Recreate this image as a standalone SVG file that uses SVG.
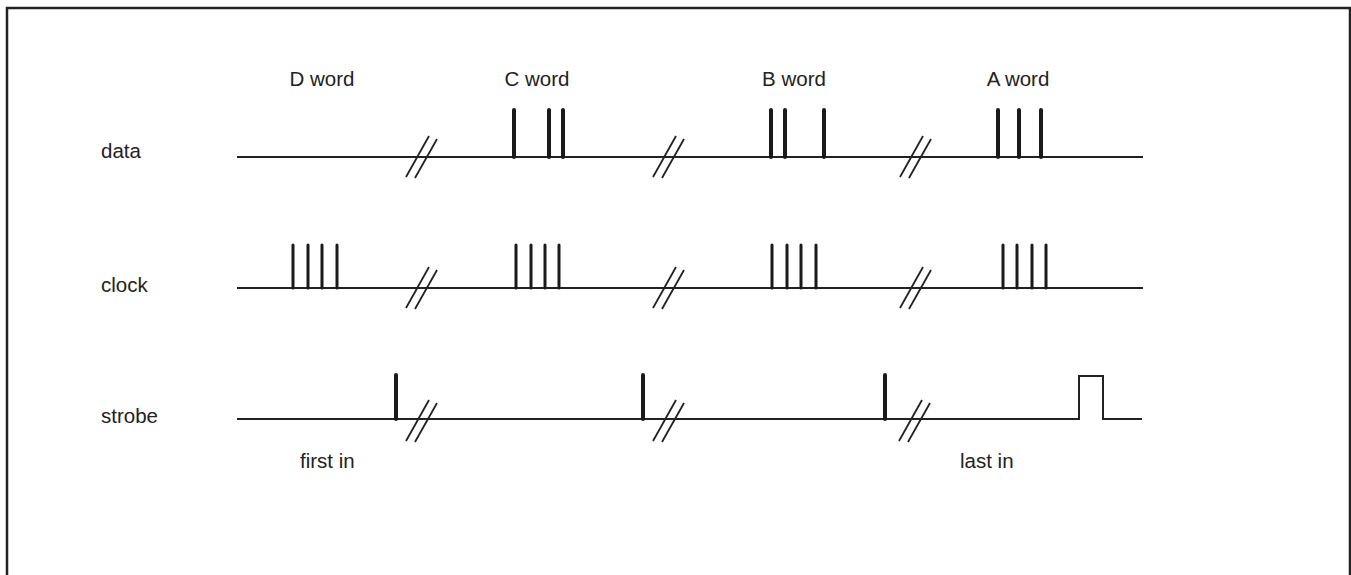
<svg xmlns="http://www.w3.org/2000/svg" width="1351" height="575" viewBox="0 0 1351 575">
<defs>
<style>
.lbl{font-family:"Liberation Sans",Arial,sans-serif;font-size:20.5px;fill:#222}
.mid{text-anchor:middle}
.base{stroke:#222;stroke-width:2;fill:none}
.pd{stroke:#1a1a1a;stroke-width:4;stroke-linecap:round}
.pc{stroke:#1a1a1a;stroke-width:3;stroke-linecap:round}
.brk{stroke:#222;stroke-width:1.8;fill:none}
</style>
<g id="brk">
<line class="brk" x1="-15" y1="20" x2="8" y2="-21"/>
<line class="brk" x1="-6" y1="21" x2="16" y2="-18"/>
</g>
</defs>
<rect x="7" y="8" width="1343" height="620" fill="#fff" stroke="#222" stroke-width="2.5"/>
<g id="labels">
<text class="lbl" x="101" y="158">data</text>
<text class="lbl" x="101" y="292">clock</text>
<text class="lbl" x="101" y="423">strobe</text>
<text class="lbl mid" x="322" y="86">D word</text>
<text class="lbl mid" x="537" y="86">C word</text>
<text class="lbl mid" x="794" y="86">B word</text>
<text class="lbl mid" x="1018" y="86">A word</text>
<text class="lbl" x="300" y="468">first in</text>
<text class="lbl" x="960" y="468">last in</text>
</g>
<g id="data">
<line class="base" x1="237" y1="157" x2="1143" y2="157"/>
<path class="pd" d="M514 110V157M549 110V157M563 110V157M771 110V157M785 110V157M824 110V157M998 110V157M1019 110V157M1041 110V157"/>
<use href="#brk" x="421" y="157"/>
<use href="#brk" x="668" y="157"/>
<use href="#brk" x="915" y="157"/>
</g>
<g id="clock">
<line class="base" x1="237" y1="288" x2="1143" y2="288"/>
<path class="pc" d="M293 245V288M308 245V288M322 245V288M337 245V288M516 245V288M531 245V288M545 245V288M559 245V288M772 245V288M787 245V288M801 245V288M816 245V288M1003 245V288M1017 245V288M1032 245V288M1046 245V288"/>
<use href="#brk" x="421" y="288"/>
<use href="#brk" x="668" y="288"/>
<use href="#brk" x="915" y="288"/>
</g>
<g id="strobe">
<path class="base" d="M237 419H1079V376H1103V419H1142"/>
<path class="pd" d="M396 375V419M643 375V419M885 375V419"/>
<use href="#brk" x="421" y="421"/>
<use href="#brk" x="668" y="421"/>
<use href="#brk" x="914" y="421"/>
</g>
</svg>
